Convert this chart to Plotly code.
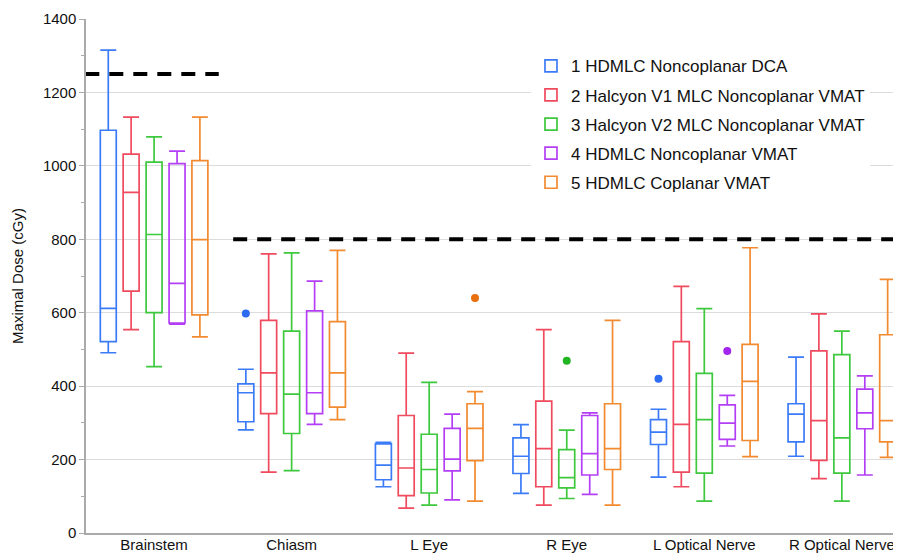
import plotly.graph_objects as go

categories = ["Brainstem", "Chiasm", "L Eye", "R Eye", "L Optical Nerve", "R Optical Nerve"]
series_names = [
    "1 HDMLC Noncoplanar DCA",
    "2 Halcyon V1 MLC Noncoplanar VMAT",
    "3 Halcyon V2 MLC Noncoplanar VMAT",
    "4 HDMLC Noncoplanar VMAT",
    "5 HDMLC Coplanar VMAT",
]
colors = ["#3b7bf7", "#f04a5e", "#3dc83d", "#b43ef5", "#f28a30"]
outlier_colors = ["#2d6bf2", "#f04a5e", "#22b422", "#a325f0", "#e8700f"]

# per series: values per category
lower = [
    [491, 281, 126, 108, 152, 209],
    [554, 166, 68, 76, 126, 148],
    [453, 170, 76, 94, 87, 87],
    [569, 296, 90, 105, 237, 158],
    [534, 309, 87, 76, 208, 206],
]
q1 = [
    [521, 303, 145, 162, 241, 248],
    [659, 325, 102, 126, 166, 198],
    [600, 271, 109, 123, 163, 163],
    [572, 325, 169, 158, 255, 284],
    [594, 343, 197, 173, 252, 248],
]
median = [
    [612, 382, 185, 209, 275, 324],
    [928, 436, 177, 230, 296, 306],
    [813, 378, 173, 151, 309, 259],
    [680, 382, 201, 216, 299, 327],
    [799, 436, 285, 230, 413, 306],
]
q3 = [
    [1097, 406, 243, 259, 309, 352],
    [1032, 579, 320, 359, 521, 496],
    [1010, 550, 269, 227, 435, 486],
    [1006, 605, 285, 320, 349, 392],
    [1014, 576, 352, 352, 514, 540],
]
upper = [
    [1315, 446, 247, 295, 337, 479],
    [1133, 760, 490, 554, 672, 597],
    [1079, 763, 410, 280, 611, 550],
    [1040, 686, 324, 327, 375, 428],
    [1133, 770, 385, 579, 777, 691],
]
# outliers: (series index, category index, value)
outlier_series = [0, 4, 2, 0, 3]
outlier_category = [1, 2, 3, 4, 4]
outlier_values = [598, 640, 469, 420, 496]

# reference (constraint) lines
threshold_values = [1250, 800]
threshold_from = [-0.5, 0.575]
threshold_to = [0.47, 5.43]

offsets = [-0.333, -0.167, 0.0, 0.167, 0.333]
box_width = 0.116

fig = go.Figure()
for s in range(len(series_names)):
    xs = [i + offsets[s] for i in range(len(categories))]
    fig.add_trace(go.Box(
        name=series_names[s],
        x=xs,
        q1=q1[s], median=median[s], q3=q3[s],
        lowerfence=lower[s], upperfence=upper[s],
        width=box_width,
        whiskerwidth=1,
        boxpoints=False,
        line=dict(color=colors[s], width=1.7),
        fillcolor="rgba(255,255,255,0)",
        legendgroup=f"g{s}",
        hoverinfo="y",
    ))

for s in range(len(series_names)):
    xs = [outlier_category[k] + offsets[s] for k in range(len(outlier_values)) if outlier_series[k] == s]
    ys = [outlier_values[k] for k in range(len(outlier_values)) if outlier_series[k] == s]
    if xs:
        fig.add_trace(go.Scatter(
            x=xs, y=ys, mode="markers",
            marker=dict(color=outlier_colors[s], size=8),
            showlegend=False, legendgroup=f"g{s}",
        ))

for v, a, b in zip(threshold_values, threshold_from, threshold_to):
    fig.add_shape(type="line", xref="x", yref="y", x0=a, x1=b, y0=v, y1=v,
                  line=dict(color="black", width=4, dash="14px,10px"))

font_family = "Liberation Sans, Arial, Helvetica, sans-serif"
fig.update_layout(
    width=893, height=546,
    margin=dict(l=78, r=0, t=11, b=21),
    paper_bgcolor="white", plot_bgcolor="white",
    font=dict(family=font_family, size=15, color="#222222"),
    showlegend=True,
    legend=dict(
        x=0.546, y=0.943, xanchor="left", yanchor="top",
        bgcolor="white", borderwidth=0,
        font=dict(size=17, color="#111111"),
        traceorder="grouped", tracegroupgap=4,
    ),
    xaxis=dict(
        range=[-0.495, 5.43],
        tickmode="array",
        tickvals=list(range(len(categories))),
        ticktext=categories,
        showgrid=False, zeroline=False,
        showline=True, linecolor="#aaaaaa", linewidth=1.5,
        ticks="", automargin=False,
        ticklabelstandoff=-3,
        tickfont=dict(size=15, color="#111111"),
    ),
    yaxis=dict(
        range=[0, 1400],
        tick0=0, dtick=200,
        showgrid=True, gridcolor="#dcdcdc", gridwidth=1.2,
        zeroline=False,
        showline=True, linecolor="#aaaaaa", linewidth=1.5,
        ticks="outside", ticklen=5, tickcolor="#aaaaaa",
        minor=dict(dtick=100, ticks="outside", ticklen=3, tickcolor="#aaaaaa", showgrid=False),
        automargin=False,
        tickfont=dict(size=15, color="#111111"),
        title=dict(text="Maximal Dose (cGy)", font=dict(size=15, color="#111111"), standoff=16),
    ),
)

fig.write_html("out.html")
